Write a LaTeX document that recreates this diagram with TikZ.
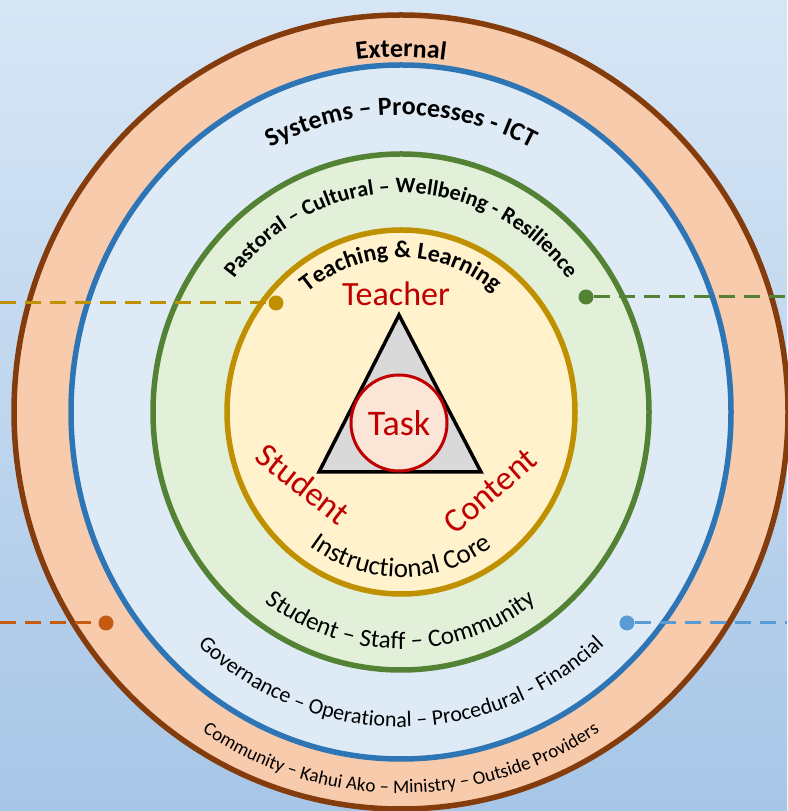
\documentclass[tikz,border=0pt]{standalone}
\usepackage{fontspec}
\setmainfont{Carlito}
\usetikzlibrary{calc,decorations.text}
\definecolor{skytop}{HTML}{D7E6F5}
\definecolor{skybot}{HTML}{A7C6E7}
\definecolor{extline}{HTML}{843C0C}
\definecolor{extfill}{HTML}{F8CBAD}
\definecolor{sysline}{HTML}{2E75B6}
\definecolor{sysfill}{HTML}{DEEBF7}
\definecolor{pasline}{HTML}{548235}
\definecolor{pasfill}{HTML}{E2F0D9}
\definecolor{tlline}{HTML}{BF9000}
\definecolor{tlfill}{HTML}{FFF2CC}
\definecolor{trigray}{HTML}{D9D9D9}
\definecolor{taskred}{HTML}{C00000}
\definecolor{taskfill}{HTML}{FBE5D6}
\definecolor{extdot}{HTML}{C55A11}
\definecolor{sysdot}{HTML}{5B9BD5}

\begin{document}
\begin{tikzpicture}[x=1pt,y=1pt,
  ring/.style={line width=5.5pt},
  dot/.style={circle,fill=#1,inner sep=0pt,minimum size=15pt},
  lead/.style={draw=#1,line width=3pt,dash pattern=on 16pt off 9pt},
  corner/.style={font=\fontsize{34}{34}\selectfont,text=taskred},
  ringtext/.style={decorate,decoration={text along path,text align=center,text={#1}}}]
\useasboundingbox (0,0) rectangle (787,811);
\shade[top color=skytop,bottom color=skybot] (0,0) rectangle (787,811);
\coordinate (C) at (401,399);
\foreach \rx/\ry/\lcol/\fcol in {387/397/extline/extfill,330/347/sysline/sysfill,248/258/pasline/pasfill,174/182/tlline/tlfill}
  \draw[ring,draw=\lcol,fill=\fcol] (C) ellipse[x radius=\rx,y radius=\ry];
\path[ringtext={|\bfseries\fontsize{26}{26}\selectfont|External}]
  ($(C)+(170:341 and 355)$) arc[start angle=170,end angle=10,x radius=341,y radius=355];
\path[ringtext={|\bfseries\fontsize{26}{26}\selectfont|Systems – Processes - ICT}]
  ($(C)+(170:285 and 297)$) arc[start angle=170,end angle=10,x radius=285,y radius=297];
\path[ringtext={|\bfseries\fontsize{22}{22}\selectfont|Pastoral – Cultural – Wellbeing - Resilience}]
  ($(C)+(170:210 and 219)$) arc[start angle=170,end angle=10,x radius=210,y radius=219];
\path[ringtext={|\bfseries\fontsize{24}{24}\selectfont|Teaching {\&} Learning}]
  ($(C)+(170:148 and 154)$) arc[start angle=170,end angle=10,x radius=148,y radius=154];
\path[ringtext={|\fontsize{27}{27}\selectfont|Instructional Core}]
  ($(C)+(190:158 and 165)$) arc[start angle=190,end angle=350,x radius=158,y radius=165];
\path[ringtext={|\fontsize{25}{25}\selectfont|Student – Staff – Community}]
  ($(C)+(190:228 and 237)$) arc[start angle=190,end angle=350,x radius=228,y radius=237];
\path[ringtext={|\fontsize{22}{22}\selectfont|Governance – Operational – Procedural - Financial}]
  ($(C)+(190:303 and 315)$) arc[start angle=190,end angle=350,x radius=303,y radius=315];
\path[ringtext={|\fontsize{19}{19}\selectfont|Community – Kahui Ako – Ministry – Outside Providers}]
  ($(C)+(190:366 and 381)$) arc[start angle=190,end angle=350,x radius=366,y radius=381];
\coordinate (apex) at (399,496);
\coordinate (baseR) at (481,339);
\coordinate (baseL) at (319,339);
\draw[line width=3.5pt,fill=trigray] (apex) -- (baseR) -- (baseL) -- cycle;
\node[circle,draw=taskred,fill=taskfill,line width=3pt,minimum size=96pt,inner sep=0pt,
  font=\fontsize{36}{36}\selectfont,text=taskred] (task) at (399,388) {Task};
\node[corner] (teacher) at (396,517) {Teacher};
\node[corner,rotate=-38] (student) at (303,327) {Student};
\node[corner,rotate=41] (content) at (490,320) {Content};
\node[dot=tlline] (tldot) at (276,508) {};
\node[dot=pasline] (pasdot) at (586,514) {};
\node[dot=extdot] (extdot) at (106,188) {};
\node[dot=sysdot] (sysdot) at (627,188) {};
\coordinate (tlend) at (0,508);
\coordinate (pasend) at (787,514);
\coordinate (extend) at (0,188);
\coordinate (sysend) at (787,188);
\draw[lead=tlline] (tlend) -- (tldot);
\draw[lead=pasline] (pasdot) -- (pasend);
\draw[lead=extdot] (extend) -- (extdot);
\draw[lead=sysdot] (sysdot) -- (sysend);
\end{tikzpicture}
\end{document}
